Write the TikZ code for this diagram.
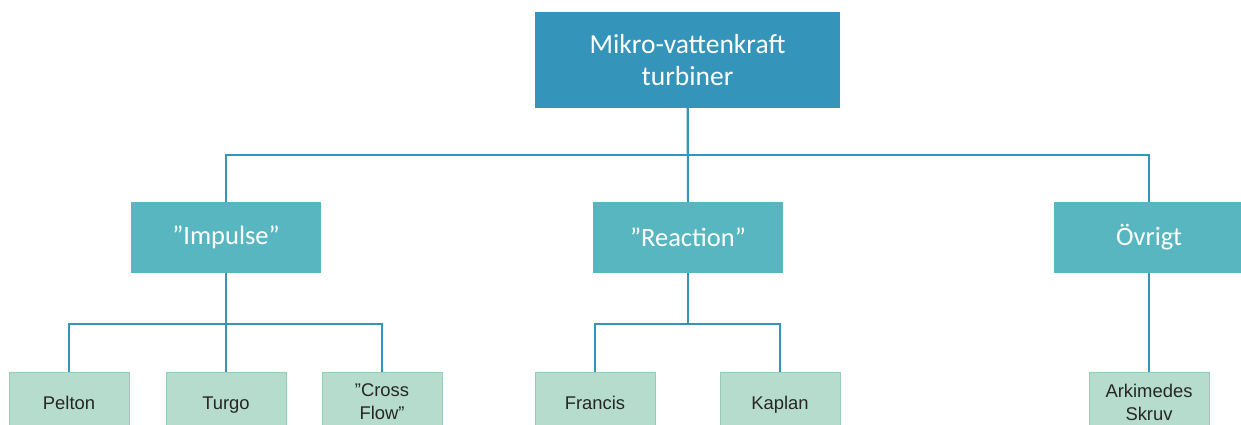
\documentclass[tikz,border=0pt]{standalone}
\usepackage{fontspec}
\setmainfont{Carlito}
\newfontfamily\leaffont{Liberation Sans}
\definecolor{topblue}{RGB}{52,148,186}
\definecolor{midteal}{RGB}{88,182,192}
\definecolor{leafgreen}{RGB}{182,220,205}
\definecolor{leafedge}{RGB}{150,205,182}
\begin{document}
\begin{tikzpicture}[x=1pt,y=-1pt,
	topbox/.style={fill=topblue,text=white,minimum width=305pt,minimum height=96pt,align=center,font=\fontsize{27.5}{32}\selectfont,inner sep=0pt},
	midbox/.style={fill=midteal,text=white,minimum width=190pt,minimum height=71pt,align=center,font=\fontsize{26.5}{31}\selectfont,inner sep=0pt},
	leafbox/.style={fill=leafgreen,draw=leafedge,line width=0.8pt,text=black!85,minimum width=120pt,minimum height=60pt,align=center,font=\leaffont\fontsize{18.4}{23}\selectfont,inner sep=0pt},
	leafone/.style={leafbox,text height=17pt,text depth=3pt},
	conn/.style={draw=topblue,line width=2pt}]
		\clip (0,0) rectangle (1241,425);
		\fill[white] (0,0) rectangle (1241,425);
		% tree
		\node[topbox] (top) at (687.5,60) {Mikro-vattenkraft\\turbiner};
		\node[midbox] (imp) at (226,237.5) {”Impulse”};
		\node[midbox] (rea) at (688,237.5) {”Reaction”};
		\node[midbox] (ovr) at (1149,237.5) {Övrigt};
		\node[leafone] (pel) at (69,402) {Pelton};
		\node[leafone] (tur) at (226,402) {Turgo};
		\node[leafbox] (cro) at (382,402) {”Cross\\Flow”};
		\node[leafone] (fra) at (595,402) {Francis};
		\node[leafone] (kap) at (780,402) {Kaplan};
		\node[leafbox] (ark) at (1149,402) {Arkimedes\\Skruv};
		% connectors
		\draw[conn] (top.south) -- ++(0,47) -| (imp.north);
		\draw[conn] (top.south) -- ++(0,47) -| (ovr.north);
		\draw[conn] (top.south) -- (rea.north);
		\draw[conn] (imp.south) -- ++(0,51) -| (pel.north);
		\draw[conn] (imp.south) -- ++(0,51) -| (cro.north);
		\draw[conn] (imp.south) -- (tur.north);
		\draw[conn] (rea.south) -- ++(0,51) -| (fra.north);
		\draw[conn] (rea.south) -- ++(0,51) -| (kap.north);
		\draw[conn] (ovr.south) -- (ark.north);
	\end{tikzpicture}
\end{document}
